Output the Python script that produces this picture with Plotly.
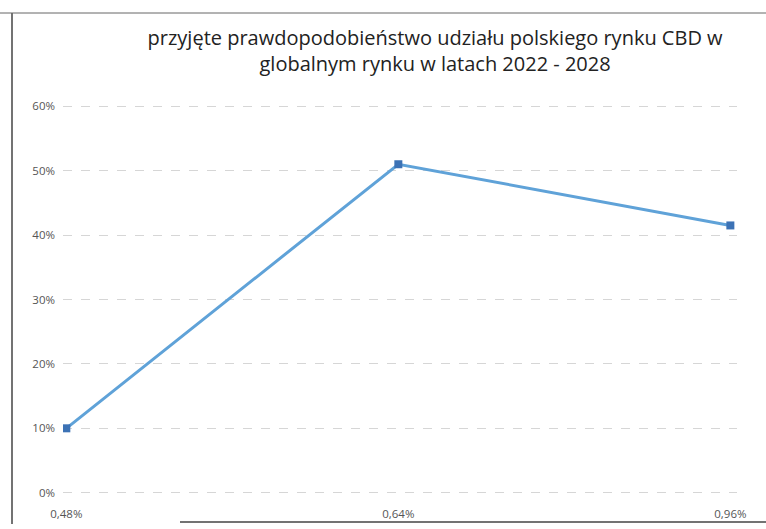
import plotly.graph_objects as go

# Market share scenarios (x) and their assumed probability (y)
share_labels = ["0,48%", "0,64%", "0,96%"]
probability = [0.10, 0.51, 0.415]

W, H = 766, 529
L, R, T, B = 63, 29, 105, 35
plot_w = W - L - R
plot_h = H - T - B


def px_x(x):
    return (x - L) / plot_w


def px_y(y):
    return (H - B - y) / plot_h


fig = go.Figure()
fig.add_trace(go.Scatter(
    x=share_labels,
    y=probability,
    mode="lines+markers",
    line=dict(color="#5fa2d8", width=3),
    marker=dict(symbol="square", size=8, color="#3c72b5"),
    showlegend=False,
    hoverinfo="skip",
))

fig.update_layout(
    width=W,
    height=H,
    margin=dict(l=L, r=R, t=T, b=B),
    paper_bgcolor="white",
    plot_bgcolor="white",
    font=dict(family="Open Sans, Liberation Sans, sans-serif", color="#555555"),
    title=dict(
        text="przyjęte prawdopodobieństwo udziału polskiego rynku CBD w<br>globalnym rynku w latach 2022 - 2028",
        x=0.568,
        xanchor="center",
        y=0.915,
        yanchor="middle",
        font=dict(size=20, color="#222222"),
    ),
    xaxis=dict(
        type="category",
        range=[-0.01, 2.02],
        showgrid=False,
        zeroline=False,
        showline=False,
        ticks="",
        automargin=False,
        ticklabelstandoff=11,
        tickfont=dict(size=11.5, color="#555555"),
    ),
    yaxis=dict(
        range=[-0.002, 0.602],
        tickvals=[0, 0.1, 0.2, 0.3, 0.4, 0.5, 0.6],
        tickformat=".0%",
        showgrid=True,
        gridcolor="#d6d6d6",
        gridwidth=1,
        griddash="dash",
        zeroline=False,
        showline=False,
        ticks="",
        automargin=False,
        ticklabelstandoff=7,
        tickfont=dict(size=11.5, color="#555555"),
    ),
    shapes=[
        # outer frame of the chart area
        dict(type="line", xref="paper", yref="paper",
             x0=px_x(12), x1=px_x(12), y0=px_y(13), y1=px_y(524),
             line=dict(color="#444444", width=1.5)),
        dict(type="line", xref="paper", yref="paper",
             x0=px_x(0), x1=px_x(766), y0=px_y(13), y1=px_y(13),
             line=dict(color="#666666", width=1)),
        dict(type="line", xref="paper", yref="paper",
             x0=px_x(180), x1=px_x(766), y0=px_y(522), y1=px_y(522),
             line=dict(color="#444444", width=1.5)),
    ],
)

fig.write_html("out.html")
